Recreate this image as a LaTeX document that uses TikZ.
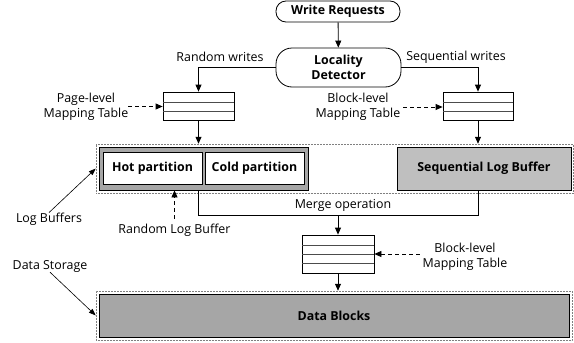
\documentclass[tikz,border=0pt]{standalone}
\usepackage{fontspec}
\setmainfont{Open Sans}
\usetikzlibrary{arrows.meta}

\begin{document}
\begin{tikzpicture}[x=1pt, y=-1pt,
    every node/.style={font=\fontsize{12.4}{15}\selectfont, inner sep=0pt},
    blk/.style={draw, line width=0.8pt, font=\fontsize{12.4}{15}\selectfont\bfseries, align=center},
    tbl/.style={draw, line width=0.8pt},
    dotbox/.style={draw, gray, densely dotted, line width=0.5pt},
    arr/.style={-{Triangle[length=7pt,width=6pt]}, line width=0.8pt},
    darr/.style={arr, dashed, dash pattern=on 4pt off 3pt},
    thinarr/.style={-{Triangle[length=7pt,width=5pt]}, line width=0.6pt}]
    \useasboundingbox (0,0) rectangle (574,343);

    % dotted groups
    \node[dotbox, minimum width=477, minimum height=49] (lbuf) at (334.5,168.5) {};
    \node[dotbox, minimum width=476, minimum height=49] (ds) at (334,315.5) {};

    % top flow
    \node[blk, minimum width=124, minimum height=21, rounded corners=10pt] (wr) at (338,11.5) {Write Requests};
    \node[blk, minimum width=125, minimum height=39, rounded corners=16pt] (ld) at (338.5,67.5) {Locality\\Detector};

    % mapping tables
    \node[tbl, minimum width=71, minimum height=28] (pt) at (198.5,106) {};
    \foreach \y in {102,111} \draw[gray!60!black, line width=0.8pt] (163,\y) -- (234,\y);
    \node[tbl, minimum width=70, minimum height=28] (bt) at (478,106) {};
    \foreach \y in {102,111} \draw[gray!60!black, line width=0.8pt] (443,\y) -- (513,\y);
    \node[tbl, minimum width=72, minimum height=38] (mt) at (338,254) {};
    \foreach \y in {245,254,263} \draw[gray!60!black, line width=0.8pt] (302,\y) -- (374,\y);

    % log buffers
    \node[blk, fill=black!35, minimum width=209, minimum height=43] (rlb) at (203.5,168.5) {};
    \node[blk, fill=white, minimum width=99, minimum height=32] (hot) at (152.5,168) {Hot partition};
    \node[blk, fill=white, minimum width=99, minimum height=32] (cold) at (254.5,168) {Cold partition};
    \node[blk, fill=black!25, minimum width=174, minimum height=43] (slb) at (484,168.5) {Sequential Log Buffer};

    % data storage
    \node[blk, fill=black!35, minimum width=470, minimum height=43] (db) at (334,315.5) {Data Blocks};

    % labels
    \node (rw) at (220,57) {Random writes};
    \node (sw) at (456,57) {Sequential writes};
    \node[align=center] (ptl) at (86,106.5) {Page-level\\Mapping Table};
    \node[align=center] (btl) at (358,107) {Block-level\\Mapping Table};
    \node[align=center] (mtl) at (465,256.5) {Block-level\\Mapping Table};
    \node (mgl) at (343,205) {Merge operation};
    \node (lbl) at (49,219) {Log Buffers};
    \node (rll) at (174.5,230) {Random Log Buffer};
    \node (dsl) at (50,266) {Data Storage};

    % connectors
    \draw[arr] (wr) -- (ld);
    \draw[arr] (ld.west) -| (pt.north);
    \draw[arr] (ld.east) -| (bt.north);
    \draw[arr] (pt.south) -- (pt.south |- lbuf.north);
    \draw[arr] (bt.south) -- (bt.south |- lbuf.north);
    \coordinate (mg) at (338,215.5);
    \draw[line width=0.8pt] (pt.south |- rlb.south) |- (bt.south |- mg) -- (bt.south |- slb.south);
    \draw[arr] (mg) -- (mt.north);
    \draw[arr] (mt.south) -- (mt.south |- ds.north);

    \draw[darr] (ptl.east) -- (pt.west |- ptl.east);
    \draw[darr, shorten <=3pt] (btl.east) -- (bt.west |- btl.east);
    \draw[darr, shorten <=3pt] (mtl.west |- mt.east) -- (mt.east);
    \draw[darr, shorten <=5pt] (rll.north) -- (rll.north |- rlb.south);
    \draw[thinarr] (lbl.north) -- (lbuf.west);
    \draw[thinarr] (dsl.south) -- (ds.west);
\end{tikzpicture}
\end{document}
